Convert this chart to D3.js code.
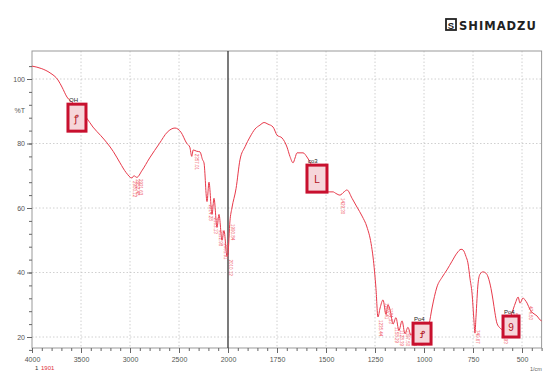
<!DOCTYPE html>
<html><head><meta charset="utf-8">
<script src="https://cdn.jsdelivr.net/npm/d3@7"></script>
<style>html,body{margin:0;padding:0;background:#fff;}svg{display:block;font-family:"Liberation Sans",Arial,sans-serif;}</style>
</head><body>
<svg id="c" width="543" height="372"></svg>
<script>
// ---- data ----
const wavenumbers = [4000,3900,3816,3735,3694,3643,3580,3510,3440,3378,3300,3235,3170,3102,3040,2980,2960,2930,2880,2800,2700,2620,2541,2480,2420,2390,2370,2355,2320,2286,2260,2245,2214,2194,2163,2143,2112,2092,2061,2041,2010,2000,1990,1980,1959,1939,1913,1888,1862,1837,1816,1796,1770,1750,1724,1699,1684,1668,1658,1648,1617,1597,1571,1546,1520,1495,1464,1449,1429,1408,1393,1367,1342,1316,1291,1270,1260,1245,1235,1224,1209,1194,1184,1173,1158,1143,1128,1112,1097,1082,1066,1051,1031,1010,990,974,959,934,908,883,857,832,811,801,786,776,765,755,745,740,735,724,714,699,684,673,658,648,638,628,612,597,582,566,546,531,520,510,495,485,474,459,444,423,408,400];
const transmittance = [104,103.2,101.9,99.7,97.5,94.4,92.5,90.4,87.8,85.1,82.5,80.2,77.5,74,71,69.3,70,69.5,71.5,75.5,80,83.5,84.8,83.5,80,78.9,76,78,77.6,77.4,75,74,62,68,58,63,54,58,50,53,45,46,56,60,66,74.9,79,82,84.5,85.7,86.5,86,85.1,82.6,81.7,78.9,76,74,75.5,77.1,77.1,75.8,73,70,67,65,65,64.5,64,65,65.6,63,60.3,57.5,54.1,49,44.8,35,26.2,29,31.5,27,30,28.4,24,26,22,25,21,23,20.5,22,20.5,22,21,24,29,35.5,38.5,40.8,43.5,46,47.2,47,45,43,38,33.6,25,21.2,26,36.7,39.5,40.2,39.8,38.6,35,31.5,27.5,24.3,22.8,22.2,22.5,25,28.4,31,32.4,30.5,32.1,31.5,30.5,28.5,27.4,26.5,25.3,25];
const xTickValues = [4000,3500,3000,2500,2000,1750,1500,1250,1000,750,500];
const yTickValues = [20,40,60,80,100];
const peakWn = [2980,2950,2920,2357,2214,2163,2112,2061,2010,1990,1429,1235,1209,1184,1158,1128,1097,1066,1031,990,740,597,546,474];
const peakLabels = ["2980.12","2952.48","2921.63","2357.01","2214.28","2163.13","2112.98","2061.91","2010.12","1990.84","1429.30","1235.44","1209.41","1184.33","1158.29","1128.39","1097.50","1066.64","1031.92","990.41","740.67","597.93","546.82","474.50"];
const boxNames = ["OH","co3","Po4","Po4"];
const boxGlyphs = ["ꝭ","L","Ꝭ","9"];
const boxWn = [3541,1546,1010,556];
const boxT = [92.2,73.3,24.3,26.5];

// ---- scales ----
const svg = d3.select("#c");
const L = 32, R = 541.6, T0 = 51, B = 348;
const x = d3.scaleLinear().domain([4000,2000,400]).range([L,228,R]);
const y = d3.scaleLinear().domain([20,100]).range([337,79]);

// grid
const g = svg.append("g");
g.selectAll(".hg").data(yTickValues).join("line")
  .attr("x1",L).attr("x2",R).attr("y1",d=>y(d)).attr("y2",d=>y(d))
  .attr("stroke","#c4c4c4").attr("stroke-width",0.8).attr("stroke-dasharray","1.5,2");
g.selectAll(".vg").data(xTickValues.filter(d=>d!==4000&&d!==2000)).join("line")
  .attr("x1",d=>x(d)).attr("x2",d=>x(d)).attr("y1",T0).attr("y2",B)
  .attr("stroke","#c4c4c4").attr("stroke-width",0.8).attr("stroke-dasharray","1.5,2");

// frame
svg.append("rect").attr("x",L).attr("y",T0).attr("width",R-L).attr("height",B-T0)
  .attr("fill","none").attr("stroke","#999").attr("stroke-width",1);
// 2000 divider
svg.append("line").attr("x1",x(2000)).attr("x2",x(2000)).attr("y1",T0).attr("y2",B)
  .attr("stroke","#333").attr("stroke-width",1.3);

// y axis
const yMinor = d3.range(16,108,4);
const ya = svg.append("g").attr("transform",`translate(${L},0)`)
  .call(d3.axisLeft(y).tickValues(yMinor).tickSize(3).tickFormat(""));
ya.select(".domain").remove();
ya.selectAll("line").attr("stroke","#666");
const yb = svg.append("g").attr("transform",`translate(${L},0)`)
  .call(d3.axisLeft(y).tickValues(yTickValues).tickSize(5).tickPadding(2).tickFormat(d3.format("d")));
yb.select(".domain").remove();
yb.selectAll("line").attr("stroke","#666");
yb.selectAll("text").attr("font-size",7).attr("fill","#555");
svg.append("text").attr("x",25).attr("y",y(89.5)).attr("text-anchor","end")
  .attr("font-size",7).attr("fill","#555").text("%T");

// x axis
const xMinor = d3.range(4000,1999,-100).concat(d3.range(1950,399,-50));
const xa = svg.append("g").attr("transform",`translate(0,${B})`)
  .call(d3.axisBottom(x).tickValues(xMinor).tickSize(3).tickFormat(""));
xa.select(".domain").remove();
xa.selectAll("line").attr("stroke","#666");
const xb = svg.append("g").attr("transform",`translate(0,${B})`)
  .call(d3.axisBottom(x).tickValues(xTickValues).tickSize(5).tickPadding(4).tickFormat(d3.format("d")));
xb.select(".domain").remove();
xb.selectAll("line").attr("stroke","#666");
xb.selectAll("text").attr("font-size",7).attr("fill","#555");
svg.append("text").attr("x",536).attr("y",371).attr("text-anchor","middle")
  .attr("font-size",5.5).attr("fill","#666").text("1/cm");

// bottom-left legend text
svg.append("text").attr("x",35).attr("y",370).attr("font-size",6).attr("fill","#333").text("1");
svg.append("text").attr("x",41).attr("y",370).attr("font-size",6).attr("fill","#e03040").text("1901");

// spectrum
const data = wavenumbers.map((w,i)=>[w,transmittance[i]]);
const line = d3.line().x(d=>x(d[0])).y(d=>y(d[1])).curve(d3.curveMonotoneX);
svg.append("path").datum(data).attr("d",line).attr("fill","none")
  .attr("stroke","#e8394a").attr("stroke-width",1);

// peak labels
const interp = w => {
  for (let i=0;i<wavenumbers.length-1;i++){
    const a=wavenumbers[i], b=wavenumbers[i+1];
    if (w<=a && w>=b){ const t=(a-w)/(a-b); return transmittance[i]+t*(transmittance[i+1]-transmittance[i]); }
  }
  return transmittance[transmittance.length-1];
};
svg.selectAll(".pk").data(peakWn).join("text")
  .attr("transform",d=>`translate(${x(d)+1.5},${Math.min(y(interp(d))+3, 330)}) rotate(90)`)
  .attr("font-size",4.5).attr("fill","#ef5a68").text((d,i)=>peakLabels[i]);

// annotation boxes
const bw=[18,20,18,16], bh=[27,27,21,21];
boxWn.forEach((w,i)=>{
  const cx=x(w), ty=y(boxT[i]);
  svg.append("rect").attr("x",cx-bw[i]/2).attr("y",ty).attr("width",bw[i]).attr("height",bh[i])
    .attr("fill","#f6d6da").attr("stroke","#c8102e").attr("stroke-width",3);
  svg.append("text").attr("x",cx).attr("y",ty+bh[i]/2+4).attr("text-anchor","middle")
    .attr("font-size",10).attr("fill","#b01020").text(boxGlyphs[i]);
  svg.append("text").attr("x",cx-bw[i]/2+1).attr("y",ty-2).attr("font-size",6)
    .attr("fill","#222").text(boxNames[i]);
});

// logo
const lg = svg.append("g");
lg.append("rect").attr("x",446).attr("y",19).attr("width",10).attr("height",11).attr("fill","none").attr("stroke","#222").attr("stroke-width",1.8);
lg.append("text").attr("x",451).attr("y",28.5).attr("text-anchor","middle").attr("font-size",9.5).attr("font-weight","bold").attr("fill","#222").text("S");
lg.append("text").attr("x",459).attr("y",30).attr("font-size",11.5).attr("font-weight","bold")
  .attr("letter-spacing",1).attr("fill","#222").attr("font-family","DejaVu Sans, sans-serif").text("SHIMADZU");
</script>
</body></html>
